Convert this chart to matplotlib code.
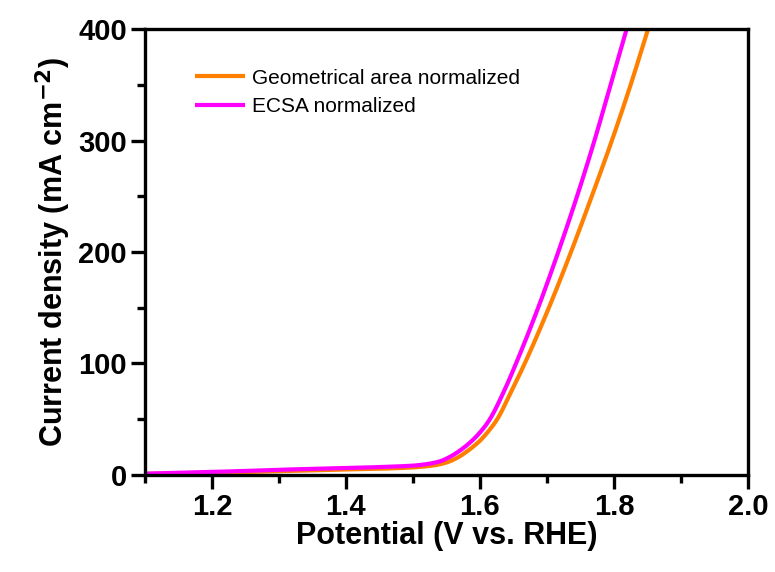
import matplotlib
matplotlib.use("Agg")
import matplotlib.pyplot as plt
from matplotlib.ticker import MultipleLocator
import numpy as np

plt.rcParams['font.family'] = ['Liberation Sans', 'DejaVu Sans']

# Geometrical area normalized (orange)
geo_v = [1.10, 1.20, 1.30, 1.40, 1.45, 1.50, 1.53, 1.55, 1.567, 1.582, 1.600, 1.614, 1.626, 1.647, 1.667, 1.703, 1.736, 1.767, 1.797, 1.825, 1.851]
geo_j = [0.8, 1.8, 3.2, 4.8, 5.4, 6.6, 8.3, 11.0, 15.5, 21.5, 30.5, 40.0, 50.0, 75.0, 100.0, 150.0, 200.0, 250.0, 300.0, 350.0, 400.0]

# ECSA normalized (magenta)
ecsa_v = [1.10, 1.20, 1.30, 1.40, 1.45, 1.50, 1.52, 1.54, 1.555, 1.572, 1.589, 1.603, 1.615, 1.636, 1.654, 1.687, 1.717, 1.745, 1.771, 1.795, 1.819]
ecsa_j = [1.0, 2.5, 4.5, 6.0, 6.9, 8.2, 9.5, 12.0, 16.0, 22.5, 31.0, 40.0, 50.0, 75.0, 100.0, 150.0, 200.0, 250.0, 300.0, 350.0, 400.0]

labels = ["Geometrical area normalized", "ECSA normalized"]

fig = plt.figure(figsize=(7.75, 5.72), dpi=100)
ax = fig.add_axes([0.187, 0.170, 0.778, 0.779])

def smooth(xs, ys):
    xs = np.asarray(xs); ys = np.asarray(ys)
    xf = np.linspace(xs[0], xs[-1], 600)
    h = np.diff(xs); d = np.diff(ys) / h
    m = np.zeros_like(ys)
    for k in range(1, len(xs) - 1):
        if d[k-1] * d[k] > 0:
            w1 = 2 * h[k] + h[k-1]; w2 = h[k] + 2 * h[k-1]
            m[k] = (w1 + w2) / (w1 / d[k-1] + w2 / d[k])
    m[0] = d[0]; m[-1] = d[-1]
    idx = np.clip(np.searchsorted(xs, xf) - 1, 0, len(xs) - 2)
    t = (xf - xs[idx]) / h[idx]
    h00 = 2*t**3 - 3*t**2 + 1; h10 = t**3 - 2*t**2 + t
    h01 = -2*t**3 + 3*t**2; h11 = t**3 - t**2
    yf = h00*ys[idx] + h10*h[idx]*m[idx] + h01*ys[idx+1] + h11*h[idx]*m[idx+1]
    return xf, yf

x1, y1 = smooth(geo_v, geo_j)
x2, y2 = smooth(ecsa_v, ecsa_j)
ax.plot(x1, y1, color='#FF8000', lw=3, label=labels[0], solid_capstyle='butt')
ax.plot(x2, y2, color='#FF00FF', lw=3, label=labels[1], solid_capstyle='butt')

ax.set_xlim(1.1, 2.0)
ax.set_ylim(0, 400)
ax.xaxis.set_major_locator(MultipleLocator(0.2))
ax.xaxis.set_minor_locator(MultipleLocator(0.1))
ax.yaxis.set_major_locator(MultipleLocator(100))
ax.yaxis.set_minor_locator(MultipleLocator(50))
ax.set_xticks([1.2, 1.4, 1.6, 1.8, 2.0])
ax.set_xticklabels(['1.2', '1.4', '1.6', '1.8', '2.0'])

for s in ax.spines.values():
    s.set_linewidth(2.4)
ax.tick_params(which='major', direction='out', length=10, width=2.4, labelsize=21, pad=3)
ax.tick_params(which='minor', direction='out', length=5.5, width=2.4)
ax.tick_params(top=False, right=False, which='both')
for lab in ax.get_xticklabels() + ax.get_yticklabels():
    lab.set_fontweight('bold')

ax.set_xlabel('Potential (V vs. RHE)', fontsize=22, fontweight='bold', labelpad=0)
ax.set_ylabel('Current density (mA cm$^{\\mathbf{-2}}$)', fontsize=22, fontweight='bold', labelpad=4)

leg = ax.legend(loc='upper left', bbox_to_anchor=(0.07, 0.93), frameon=False,
                fontsize=15, handlelength=2.4, handletextpad=0.3, labelspacing=0.45,
                borderaxespad=0)

fig.savefig('out.png', dpi=100)
